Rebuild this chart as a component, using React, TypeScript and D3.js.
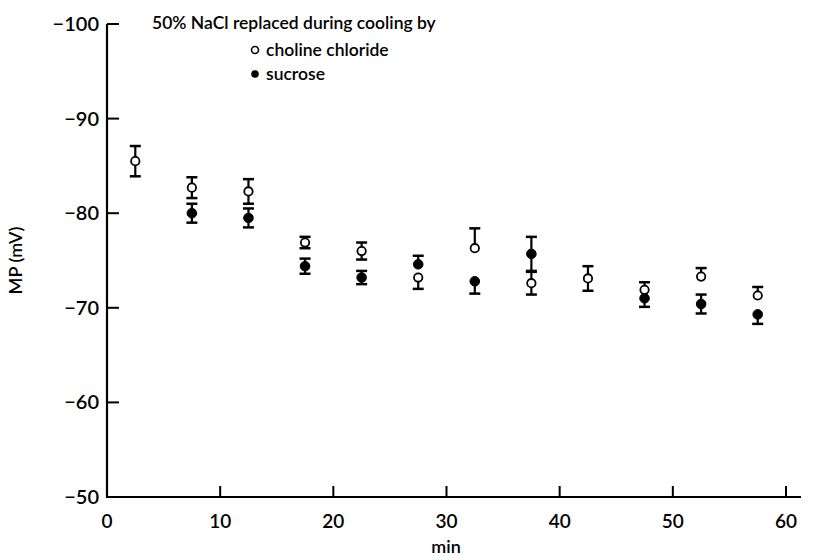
import React, { useRef, useEffect } from 'react';
import * as d3 from 'd3';

// time (min) of each sample, middle of each 5 min bin
const times = [2.5, 7.5, 12.5, 17.5, 22.5, 27.5, 32.5, 37.5, 42.5, 47.5, 52.5, 57.5];

// choline chloride (open circles)
const cholineMean = [-85.5, -82.7, -82.3, -76.9, -76.0, -73.2, -76.3, -72.6, -73.1, -71.9, -73.3, -71.3];
const cholineSE = [1.6, 1.1, 1.3, 0.6, 0.9, 1.2, 2.1, 1.2, 1.3, 0.8, 0.9, 0.9];
const cholineBars = ['both', 'both', 'both', 'both', 'both', 'down', 'up', 'both', 'both', 'up', 'up', 'up'];

// sucrose (filled circles)
const sucroseMean = [null, -80.0, -79.5, -74.4, -73.2, -74.6, -72.8, -75.7, null, -71.0, -70.4, -69.3];
const sucroseSE = [null, 1.0, 1.0, 0.8, 0.7, 0.9, 1.3, 1.8, null, 0.9, 1.0, 1.0];
const sucroseBars = [null, 'both', 'both', 'both', 'both', 'up', 'down', 'both', null, 'down', 'both', 'down'];

const xTicks = [0, 10, 20, 30, 40, 50, 60];
const yTicks = [-100, -90, -80, -70, -60, -50];

const FONT = 'Lato, "Open Sans", sans-serif';

const App = () => {
  const svgRef = useRef(null);

  useEffect(() => {
    const svg = d3.select(svgRef.current);
    svg.selectAll('*').remove();

    const x = d3.scaleLinear().domain([0, 60]).range([107, 786]);
    const y = d3.scaleLinear().domain([-100, -50]).range([24, 497]);

    const g = svg.append('g')
      .attr('font-family', FONT)
      .attr('font-weight', 600);

    // axes lines
    g.append('line')
      .attr('x1', x(0)).attr('x2', x(0))
      .attr('y1', y(-100)).attr('y2', y(-50) + 1)
      .attr('stroke', '#000').attr('stroke-width', 2.2);
    g.append('line')
      .attr('x1', x(0) - 1).attr('x2', 801)
      .attr('y1', y(-50)).attr('y2', y(-50))
      .attr('stroke', '#000').attr('stroke-width', 2.2);

    // y ticks
    g.selectAll('.ytick')
      .data(yTicks)
      .enter()
      .append('line')
      .attr('x1', x(0)).attr('x2', x(0) + 12)
      .attr('y1', (d) => y(d)).attr('y2', (d) => y(d))
      .attr('stroke', '#000').attr('stroke-width', 2);
    g.selectAll('.ylab')
      .data(yTicks)
      .enter()
      .append('text')
      .attr('x', 99)
      .attr('y', (d) => y(d) + 7)
      .attr('text-anchor', 'end')
      .attr('font-size', 20)
      .text((d) => '\u2212' + Math.abs(d));

    // x ticks
    g.selectAll('.xtick')
      .data(xTicks.slice(1))
      .enter()
      .append('line')
      .attr('x1', (d) => x(d)).attr('x2', (d) => x(d))
      .attr('y1', y(-50)).attr('y2', y(-50) - 11)
      .attr('stroke', '#000').attr('stroke-width', 2);
    g.selectAll('.xlab')
      .data(xTicks)
      .enter()
      .append('text')
      .attr('x', (d) => x(d))
      .attr('y', 528)
      .attr('text-anchor', 'middle')
      .attr('font-size', 19)
      .text((d) => d);

    // axis titles
    g.append('text')
      .attr('x', 446).attr('y', 553)
      .attr('text-anchor', 'middle')
      .attr('font-size', 18)
      .text('min');
    g.append('text')
      .attr('transform', `translate(22,${y(-75)}) rotate(-90)`)
      .attr('text-anchor', 'middle')
      .attr('font-size', 18)
      .text('MP (mV)');

    const drawSeries = (means, ses, bars, filled) => {
      const pts = times
        .map((t, i) => ({ t, m: means[i], se: ses[i], side: bars[i] }))
        .filter((d) => d.m !== null);
      const s = g.append('g');
      const cap = 5.5;
      pts.forEach((d) => {
        const top = d.side === 'down' ? d.m : d.m - d.se;
        const bot = d.side === 'up' ? d.m : d.m + d.se;
        s.append('line')
          .attr('x1', x(d.t)).attr('x2', x(d.t))
          .attr('y1', y(top)).attr('y2', y(bot))
          .attr('stroke', '#000').attr('stroke-width', 2.2);
        if (d.side !== 'down') {
          s.append('line')
            .attr('x1', x(d.t) - cap).attr('x2', x(d.t) + cap)
            .attr('y1', y(top)).attr('y2', y(top))
            .attr('stroke', '#000').attr('stroke-width', 2.5);
        }
        if (d.side !== 'up') {
          s.append('line')
            .attr('x1', x(d.t) - cap).attr('x2', x(d.t) + cap)
            .attr('y1', y(bot)).attr('y2', y(bot))
            .attr('stroke', '#000').attr('stroke-width', 2.5);
        }
        s.append('circle')
          .attr('cx', x(d.t)).attr('cy', y(d.m))
          .attr('r', filled ? 4.8 : 4.2)
          .attr('fill', filled ? '#000' : '#fff')
          .attr('stroke', '#000')
          .attr('stroke-width', filled ? 1 : 1.8);
      });
    };

    drawSeries(cholineMean, cholineSE, cholineBars, false);
    drawSeries(sucroseMean, sucroseSE, sucroseBars, true);

    // legend
    g.append('text')
      .attr('x', 152).attr('y', 29)
      .attr('font-size', 17.5)
      .text('50% NaCl replaced during cooling by');
    g.append('circle')
      .attr('cx', 255).attr('cy', 50).attr('r', 3.5)
      .attr('fill', '#fff').attr('stroke', '#000').attr('stroke-width', 1.6);
    g.append('text')
      .attr('x', 266).attr('y', 56)
      .attr('font-size', 17.5)
      .text('choline chloride');
    g.append('circle')
      .attr('cx', 255).attr('cy', 74).attr('r', 3.8)
      .attr('fill', '#000');
    g.append('text')
      .attr('x', 266).attr('y', 80)
      .attr('font-size', 17.5)
      .text('sucrose');
  }, []);

  return (
    <svg
      ref={svgRef}
      width={819}
      height={558}
      style={{ position: 'absolute', left: 0, top: 0, background: '#fff' }}
    ></svg>
  );
};

export default App;
